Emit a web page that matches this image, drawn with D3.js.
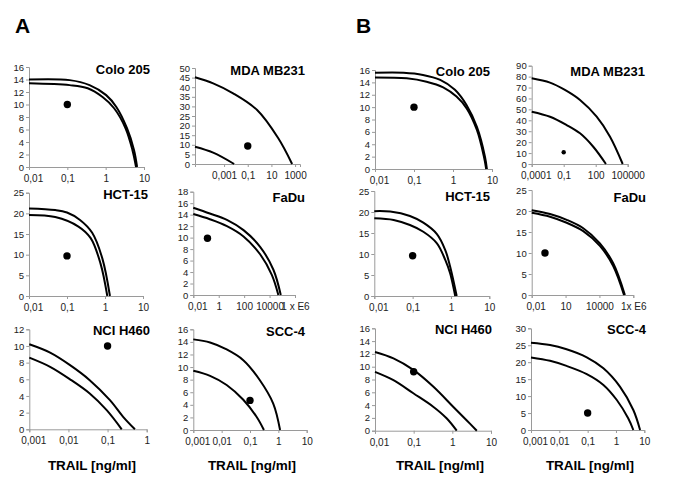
<!DOCTYPE html>
<html>
<head>
<meta charset="utf-8">
<script src="https://cdn.jsdelivr.net/npm/d3@7"></script>
<style>
  body { margin: 0; background: #fff; }
  svg { font-family: "Liberation Sans", Arial, sans-serif; }
</style>
</head>
<body>
<svg id="chart" width="685" height="482"></svg>
<script>
// ---- data: [TRAIL ng/ml, second drug] pairs ----
const colo205A_upper = [[0.01,14.0],[0.115,13.9],[0.38,13.1],[1.03,11.5],[1.9,9.6],[3.6,6.2],[5.5,2.7],[6.6,0]];
const colo205A_lower = [[0.01,13.4],[0.115,13.1],[0.34,12.6],[0.83,11.2],[1.66,9.4],[3.3,6.2],[5.0,2.7],[6.2,0]];
const colo205A_dot = [0.1, 10];

const mdaA_upper = [[3.5e-6,45.2],[1.2e-4,42],[0.0058,36.8],[0.62,28.1],[37,13.5],[560,0]];
const mdaA_lower = [[3.5e-6,9.0],[1.2e-4,5.9],[0.0071,0]];
const mdaA_dot = [0.1, 9.4];

const hct15A_upper = [[0.01,21.2],[0.049,20.8],[0.1,20.2],[0.22,18.4],[0.46,15.3],[0.85,9.1],[1.35,0]];
const hct15A_lower = [[0.01,19.6],[0.049,19.1],[0.2,16.8],[0.42,14.0],[0.76,7.9],[1.15,0]];
const hct15A_dot = [0.1, 9.7];

const faduA_upper = [[0.01,15.2],[0.2,14.2],[4.4,13.1],[89,11.3],[1800,8.4],[20000,4.4],[76000,0]];
const faduA_lower = [[0.01,14.1],[0.2,13.2],[4.4,12.0],[89,10.2],[1800,7.1],[15000,3.5],[49000,0]];
const faduA_dot = [0.13, 9.9];

const nciA_upper = [[0.001,10.2],[0.0034,9.2],[0.011,7.7],[0.035,5.9],[0.115,3.5],[0.25,1.5],[0.5,0]];
const nciA_lower = [[0.001,8.6],[0.0034,7.5],[0.011,6.0],[0.035,4.3],[0.095,2.3],[0.23,0]];
const nciA_dot = [0.1, 10];

const scc4A_upper = [[0.001,14.4],[0.0039,13.9],[0.015,12.8],[0.058,11.1],[0.22,7.95],[0.66,4.2],[1.15,0]];
const scc4A_lower = [[0.001,9.4],[0.0039,8.6],[0.015,7.15],[0.058,4.8],[0.17,2.1],[0.31,0]];
const scc4A_dot = [0.1, 4.7];

const colo205B_upper = [[0.01,15.55],[0.054,15.55],[0.17,15.2],[0.47,14.4],[1.12,12.8],[2.24,10.3],[4.1,6.8],[6.6,2.0],[7.4,0]];
const colo205B_lower = [[0.01,14.8],[0.065,14.65],[0.21,14.1],[0.56,13.2],[1.23,11.7],[2.24,9.8],[4.1,6.3],[6.2,2.0],[7.1,0]];
const colo205B_dot = [0.1, 10];

const mdaB_upper = [[1e-4,78.5],[0.0052,74.5],[0.13,67.8],[3.4,58.6],[123,43.3],[2200,25],[34000,0]];
const mdaB_lower = [[1e-4,47.9],[0.0052,43.3],[0.19,35.7],[3.4,28.1],[59,15.8],[910,0]];
const mdaB_dot = [0.1, 10.7];

const hct15B_upper = [[0.01,20.2],[0.026,20.1],[0.085,19.05],[0.19,17.45],[0.43,14.75],[0.71,10.95],[0.95,7.0],[1.41,0]];
const hct15B_lower = [[0.01,18.5],[0.032,18.1],[0.085,16.9],[0.19,15.3],[0.43,12.55],[0.71,8.6],[0.95,5.4],[1.29,0]];
const hct15B_dot = [0.1, 9.6];

const faduB_upper = [[0.01,20.2],[0.42,19.3],[12.6,17.9],[370,15.9],[11000,12.3],[166000,7.55],[1.8e6,0]];
const faduB_lower = [[0.01,19.6],[0.42,18.65],[12.6,17.2],[370,15.2],[11000,11.7],[166000,6.9],[1.5e6,0]];
const faduB_dot = [0.15, 10];

const nciB_upper = [[0.01,12.3],[0.03,11.3],[0.098,9.5],[0.32,6.9],[1.05,3.75],[2.3,1.67],[4.3,0]];
const nciB_lower = [[0.01,9.2],[0.03,7.9],[0.098,5.85],[0.32,3.75],[0.71,1.94],[1.3,0]];
const nciB_dot = [0.1, 9.2];

const scc4B_upper = [[0.001,25.75],[0.0047,25.07],[0.018,23.8],[0.093,21.45],[0.36,18.2],[1.38,12.8],[4.1,5.9],[7.1,0]];
const scc4B_lower = [[0.001,21.4],[0.0047,20.4],[0.018,18.9],[0.093,16.5],[0.36,13.3],[1.07,8.85],[2.7,3.45],[4.1,0]];
const scc4B_dot = [0.1, 5];

// ---- axis ticks ----
const ticksDec3 = [0.01, 0.1, 1, 10];
const labelsDec3 = ["0,01", "0,1", "1", "10"];
const ticksMdaA = [0.001, 0.1, 10, 1000];
const labelsMdaA = ["0,001", "0,1", "10", "1000"];
const ticksFaduA = [0.01, 1, 100, 10000, 1e6];
const labelsFaduA = ["0,01", "1", "100", "10000", "1 x E6"];
const ticksNciA = [0.001, 0.01, 0.1, 1];
const labelsNciA = ["0,001", "0,01", "0,1", "1"];
const ticksScc4 = [0.001, 0.01, 0.1, 1, 10];
const labelsScc4 = ["0,001", "0,01", "0,1", "1", "10"];
const ticksMdaB = [1e-4, 0.1, 100, 1e5];
const labelsMdaB = ["0,0001", "0,1", "100", "100000"];
const ticksFaduB = [0.01, 10, 10000, 1e7];
const labelsFaduB = ["0,01", "10", "10000", "1x E6"];

// ---- panels: name, data refs, x domain, y max / step ----
const panels = [
  { name: "Colo 205", up: colo205A_upper, lo: colo205A_lower, dot: colo205A_dot, xd: [0.01, 10], ymax: 16, ystep: 2, xt: ticksDec3, xl: labelsDec3 },
  { name: "MDA MB231", up: mdaA_upper, lo: mdaA_lower, dot: mdaA_dot, xd: [3.5e-6, 2600], ymax: 50, ystep: 5, xt: ticksMdaA, xl: labelsMdaA },
  { name: "HCT-15", up: hct15A_upper, lo: hct15A_lower, dot: hct15A_dot, xd: [0.01, 10], ymax: 25, ystep: 5, xt: ticksDec3, xl: labelsDec3 },
  { name: "FaDu", up: faduA_upper, lo: faduA_lower, dot: faduA_dot, xd: [0.01, 1e6], ymax: 18, ystep: 2, xt: ticksFaduA, xl: labelsFaduA },
  { name: "NCI H460", up: nciA_upper, lo: nciA_lower, dot: nciA_dot, xd: [0.001, 1], ymax: 12, ystep: 2, xt: ticksNciA, xl: labelsNciA },
  { name: "SCC-4", up: scc4A_upper, lo: scc4A_lower, dot: scc4A_dot, xd: [0.001, 10], ymax: 16, ystep: 2, xt: ticksScc4, xl: labelsScc4 },
  { name: "Colo 205", up: colo205B_upper, lo: colo205B_lower, dot: colo205B_dot, xd: [0.01, 10], ymax: 16, ystep: 2, xt: ticksDec3, xl: labelsDec3 },
  { name: "MDA MB231", up: mdaB_upper, lo: mdaB_lower, dot: mdaB_dot, xd: [1e-4, 1e5], ymax: 90, ystep: 10, xt: ticksMdaB, xl: labelsMdaB },
  { name: "HCT-15", up: hct15B_upper, lo: hct15B_lower, dot: hct15B_dot, xd: [0.01, 10], ymax: 25, ystep: 5, xt: ticksDec3, xl: labelsDec3 },
  { name: "FaDu", up: faduB_upper, lo: faduB_lower, dot: faduB_dot, xd: [0.01, 1e7], ymax: 25, ystep: 5, xt: ticksFaduB, xl: labelsFaduB },
  { name: "NCI H460", up: nciB_upper, lo: nciB_lower, dot: nciB_dot, xd: [0.01, 10], ymax: 16, ystep: 2, xt: ticksDec3, xl: labelsDec3 },
  { name: "SCC-4", up: scc4B_upper, lo: scc4B_lower, dot: scc4B_dot, xd: [0.001, 10], ymax: 30, ystep: 5, xt: ticksScc4, xl: labelsScc4 }
];

// ---- layout (pixels), same order as panels ----
const layout = [
  { x: [29, 144], y: [167, 67], tx: 150, ty: 74, r: 3.7 },
  { x: [195, 300], y: [164, 68], tx: 305, ty: 75, r: 3.7 },
  { x: [29, 143], y: [296, 192.7], tx: 148, ty: 199, r: 3.7 },
  { x: [193.3, 295], y: [295, 191.7], tx: 305, ty: 202, r: 3.7 },
  { x: [29.3, 146.7], y: [429.3, 329.3], tx: 150, ty: 335, r: 3.7 },
  { x: [193.3, 306.7], y: [430, 329.3], tx: 305, ty: 336, r: 3.7 },
  { x: [375, 492], y: [169, 70], tx: 490, ty: 76, r: 3.7 },
  { x: [531.7, 627.7], y: [164, 65.7], tx: 645, ty: 76, r: 2.2 },
  { x: [374.3, 489.3], y: [296, 191], tx: 490, ty: 201, r: 3.7 },
  { x: [531.7, 633.3], y: [295, 190], tx: 646, ty: 202, r: 3.7 },
  { x: [375, 491], y: [430.7, 328.3], tx: 492, ty: 334, r: 3.7 },
  { x: [531, 644.3], y: [430, 328.3], tx: 646, ty: 334, r: 3.7 }
];

const svg = d3.select('#chart');

panels.forEach((p, i) => {
  const L = layout[i];
  const x = d3.scaleLog().domain(p.xd).range(L.x);
  const y = d3.scaleLinear().domain([0, p.ymax]).range(L.y);
  const g = svg.append('g');

  const yAxis = g.append('g')
    .attr('transform', `translate(${L.x[0]},0)`)
    .call(d3.axisLeft(y).tickValues(d3.range(0, p.ymax + 0.001, p.ystep)).tickSize(3).tickPadding(2).tickFormat(d3.format('d')));
  yAxis.selectAll('text').style('font-size', '9.5px');

  const xAxis = g.append('g')
    .attr('transform', `translate(0,${L.y[0]})`)
    .call(d3.axisBottom(x).tickValues(p.xt).tickSize(3).tickPadding(5).tickFormat((d, k) => p.xl[k]));
  xAxis.selectAll('text').style('font-size', '10px');
  // first label nudged right when it sits on the y axis
  if (p.xt[0] === p.xd[0]) xAxis.selectAll('.tick:first-of-type text').attr('dx', 4);

  [yAxis, xAxis].forEach(a => {
    a.select('.domain').attr('stroke', '#9a9a9a');
    a.selectAll('.tick line').attr('stroke', '#9a9a9a');
    a.selectAll('text').attr('fill', '#222')
      .style('font-family', '"Liberation Sans", Arial, sans-serif');
  });

  const line = d3.line().x(d => x(d[0])).y(d => y(d[1])).curve(d3.curveCatmullRom.alpha(0.5));
  [p.up, p.lo].forEach(c => {
    g.append('path').attr('d', line(c)).attr('fill', 'none')
      .attr('stroke', '#000').attr('stroke-width', 2);
  });

  g.append('circle').attr('cx', x(p.dot[0])).attr('cy', y(p.dot[1]))
    .attr('r', L.r).attr('fill', '#000');

  g.append('text').attr('x', L.tx).attr('y', L.ty)
    .attr('text-anchor', 'end').attr('font-weight', 'bold')
    .style('font-size', '13px').text(p.name);
});

// panel letters
svg.append('text').attr('x', 15).attr('y', 33).attr('font-weight', 'bold').style('font-size', '21px').text('A');
svg.append('text').attr('x', 356).attr('y', 33).attr('font-weight', 'bold').style('font-size', '21px').text('B');

// x axis titles under bottom row
[92, 252, 440, 590].forEach(cx => {
  svg.append('text').attr('x', cx).attr('y', 470).attr('text-anchor', 'middle')
    .attr('font-weight', 'bold').style('font-size', '13.5px').text('TRAIL [ng/ml]');
});
</script>
</body>
</html>
